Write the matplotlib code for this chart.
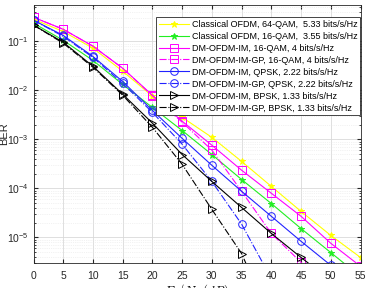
import numpy as np
import matplotlib.pyplot as plt

plt.rcParams['font.family'] = ['Liberation Sans', 'DejaVu Sans']
plt.rcParams['mathtext.fontset'] = 'cm'

snr = [0, 5, 10, 15, 20, 25, 30, 35, 40, 45, 50, 55]

# log10(BER)
ofdm64 = [-0.55, -0.80, -1.14, -1.61, -2.12, -2.55, -2.96, -3.45, -3.96, -4.47, -4.96, -5.41]
ofdm16 = [-0.63, -0.98, -1.39, -1.88, -2.35, -2.82, -3.31, -3.82, -4.31, -4.82, -5.31, -5.80]
im16 = [-0.51, -0.755, -1.10, -1.55, -2.10, -2.63, -3.12, -3.63, -4.10, -4.57, -5.12, -5.59]
gp16 = [-0.51, -0.755, -1.10, -1.55, -2.11, -2.65, -3.22, -4.06, -4.92, -5.51, -6.29]
imq = [-0.57, -0.88, -1.31, -1.82, -2.41, -2.98, -3.53, -4.06, -4.57, -5.08, -5.57, -6.08]
gpq = [-0.57, -0.90, -1.33, -1.86, -2.45, -3.10, -3.86, -4.73, -5.84]
imb = [-0.67, -1.02, -1.51, -2.08, -2.67, -3.31, -3.86, -4.39, -4.92, -5.41, -5.88]
gpb = [-0.67, -1.04, -1.53, -2.10, -2.755, -3.51, -4.43, -5.33, -6.71]

labels = ['Classical OFDM, 64-QAM,  5.33 bits/s/Hz',
          'Classical OFDM, 16-QAM,  3.55 bits/s/Hz',
          'DM-OFDM-IM, 16-QAM, 4 bits/s/Hz',
          'DM-OFDM-IM-GP, 16-QAM, 4 bits/s/Hz',
          'DM-OFDM-IM, QPSK, 2.22 bits/s/Hz',
          'DM-OFDM-IM-GP, QPSK, 2.22 bits/s/Hz',
          'DM-OFDM-IM, BPSK, 1.33 bits/s/Hz',
          'DM-OFDM-IM-GP, BPSK, 1.33 bits/s/Hz']

series = [ofdm64, ofdm16, im16, gp16, imq, gpq, imb, gpb]
colors = ['#ffff00', '#22ee22', '#ff00ff', '#ff00ff', '#2222ff', '#2222ff', 'k', 'k']
markers = ['*', '*', 's', 's', 'o', 'o', '>', '>']
styles = ['-', '-', '-', '-.', '-', '-.', '-', '-.']

fig = plt.figure(figsize=(3.66, 2.88), dpi=100)
ax = fig.add_axes([33.5/366, 1-263/288, 327/366, 258/288])

for s, c, m, ls, lab in zip(series, colors, markers, styles, labels):
    y = 10.0 ** np.array(s)
    x = snr[:len(y)]
    filled = m == '*'
    ax.semilogy(x, y, linestyle=ls, color=c, marker=m, lw=0.8,
                markersize=5 if filled else 5.5,
                markerfacecolor=c if filled else 'none',
                markeredgewidth=0.7, label=lab)

ax.set_xlim(0, 55)
ax.set_ylim(3e-6, 0.55)
ax.set_xticks(range(0, 56, 5))
ax.set_yticks([1e-5, 1e-4, 1e-3, 1e-2, 1e-1])
ax.grid(True, which='major', color='#d9d9d9', lw=0.6)
ax.grid(True, which='minor', color='#e6e6e6', lw=0.5, ls=':')
ax.tick_params(which='both', direction='in', top=True, right=True,
               labelsize=7.5, colors='#262626', length=3)
ax.tick_params(axis='x', pad=6)
ax.tick_params(which='minor', length=1.5)
for sp in ax.spines.values():
    sp.set_color('#262626')
    sp.set_linewidth(0.6)

ax.set_ylabel('BER', fontsize=8, color='#262626')
ax.yaxis.set_label_coords(-0.075, 0.5)
ax.set_xlabel(r'$E_b/N_0\ (dB)$', fontsize=9)
ax.xaxis.set_label_coords(0.5, -0.075)

leg = ax.legend(loc='upper right', bbox_to_anchor=(360/366, 1-17/288),
                bbox_transform=fig.transFigure, borderaxespad=0,
                fontsize=6.5, handlelength=3.3, handletextpad=0.3,
                labelspacing=0.33, borderpad=0.3, fancybox=False,
                framealpha=1, edgecolor='#262626')
leg.get_frame().set_linewidth(0.6)

fig.savefig('out.png', dpi=100)
